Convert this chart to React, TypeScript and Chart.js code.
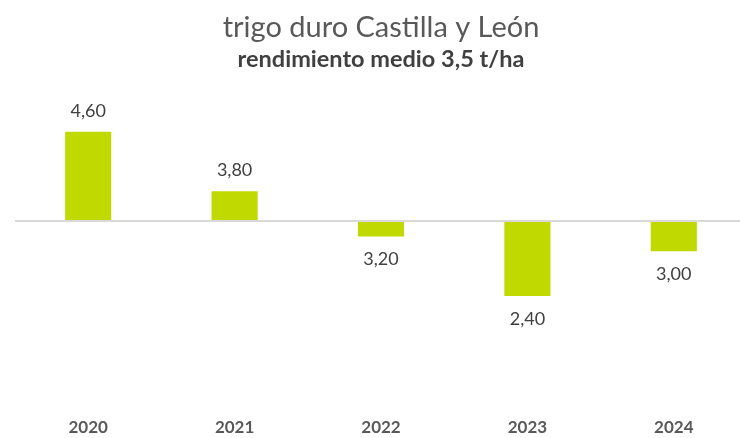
import React, { useEffect, useRef } from "react";
import { Chart, registerables } from "chart.js";

Chart.register(...registerables);

const years = ["2020", "2021", "2022", "2023", "2024"];
// rendimiento (t/ha) shown as labels
const yieldLabels = ["4,60", "3,80", "3,20", "2,40", "3,00"];
// bar length relative to the 3,5 t/ha average line
const deviation = [1.1, 0.365, -0.194, -0.927, -0.375];

const titleText = "trigo duro Castilla y León";
const subtitleText = "rendimiento medio 3,5 t/ha";

const FONT = "Lato, 'Open Sans', sans-serif";

const valueLabelPlugin = {
  id: "valueLabels",
  afterDatasetsDraw(chart: any) {
    const ctx = chart.ctx;
    const meta = chart.getDatasetMeta(0);
    ctx.save();
    ctx.font = `18px ${FONT}`;
    ctx.fillStyle = "#404040";
    ctx.textAlign = "center";
    ctx.textBaseline = "middle";
    meta.data.forEach((bar: any, i: number) => {
      const v = deviation[i];
      const y = v >= 0 ? bar.y - 21 : bar.y + 23;
      ctx.fillText(yieldLabels[i], bar.x, y);
    });
    ctx.restore();
  },
};

export default function App() {
  const ref = useRef<HTMLCanvasElement | null>(null);
  useEffect(() => {
    if (!ref.current) return;
    const chart = new Chart(ref.current, {
      type: "bar",
      data: {
        labels: years,
        datasets: [
          {
            data: deviation,
            backgroundColor: "#C0D900",
            borderWidth: 0,
            barPercentage: 0.315,
            categoryPercentage: 1,
          },
        ],
      },
      options: {
        responsive: false,
        animation: false,
        layout: { padding: { left: 15, right: 0, top: 0, bottom: 0 } },
        plugins: {
          legend: { display: false },
          tooltip: { enabled: false },
          title: {
            display: true,
            text: titleText,
            color: "#595959",
            font: { family: FONT, size: 29, weight: "normal", lineHeight: 0.7 },
            padding: { top: 17, bottom: 0 },
          },
          subtitle: {
            display: true,
            text: subtitleText,
            color: "#404040",
            font: { family: FONT, size: 23.5, weight: "bold", lineHeight: 1.0 },
            padding: { top: 10, bottom: 9 },
          },
        },
        scales: {
          x: {
            grid: { display: false, drawTicks: false },
            border: { display: false },
            ticks: {
              color: "#595959",
              font: { family: FONT, size: 17, weight: "bold" },
              padding: 3,
            },
            afterFit: (s: any) => {
              s.height = 24;
            },
          },
          y: {
            min: -2.386,
            max: 1.743,
            border: { display: false },
            ticks: { display: false },
            grid: {
              drawTicks: false,
              lineWidth: 2,
              color: (c: any) => (c.tick && c.tick.value === 0 ? "#D9D9D9" : "rgba(0,0,0,0)"),
            },
            afterFit: (s: any) => {
              s.width = 0;
            },
          },
        },
      },
      plugins: [valueLabelPlugin],
    });
    return () => chart.destroy();
  }, []);
  return (
    <div
      style={{
        position: "fixed",
        left: 0,
        top: 0,
        width: 740,
        height: 438,
        overflow: "hidden",
        background: "#fff",
      }}
    >
      <canvas ref={ref} width={747} height={438} style={{ display: "block" }} />
    </div>
  );
}
